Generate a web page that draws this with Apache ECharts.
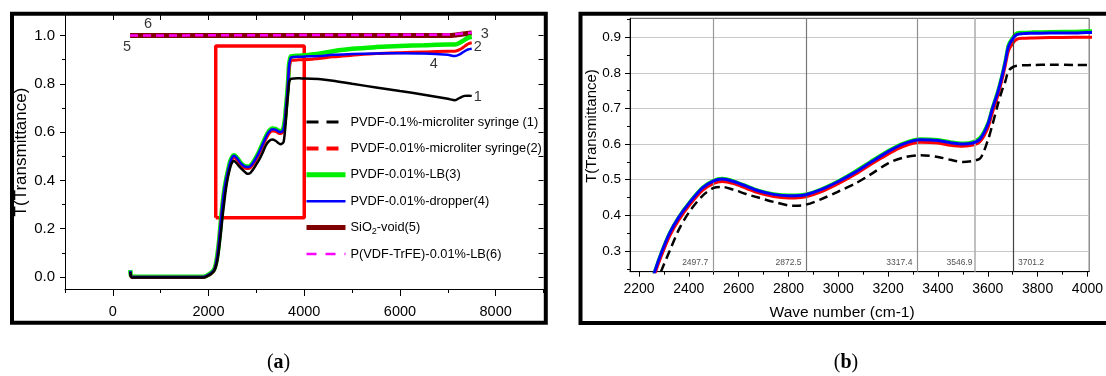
<!DOCTYPE html>
<html><head><meta charset="utf-8">
<script src="https://cdn.jsdelivr.net/npm/echarts@6/dist/echarts.min.js"></script>
<style>
html,body{margin:0;padding:0;background:#fff;}
#a{position:absolute;left:0;top:0;width:560px;height:376px;}
#b{position:absolute;left:560px;top:0;width:546px;height:376px;}
</style></head><body>
<div id="a"></div><div id="b"></div>
<script>
// ---------- DATA ----------
const NAMES = ['PVDF-0.1%-microliter syringe (1)', 'PVDF-0.01%-microliter syringe(2)', 'PVDF-0.01%-LB(3)', 'PVDF-0.01%-dropper(4)', 'SiO2-void(5)', 'P(VDF-TrFE)-0.01%-LB(6)'];
const CURVE_NUMBERS = ['1', '2', '3', '4', '5', '6'];

const WN = [365, 378, 400, 500, 1000, 1500, 1900, 1960, 2050, 2120, 2170, 2210, 2240, 2263, 2290, 2323, 2360, 2402, 2455, 2500, 2534, 2580, 2630, 2679, 2740, 2800, 2826, 2870, 2930, 3000, 3070, 3130, 3200, 3260, 3330, 3400, 3450, 3500, 3540, 3570, 3600, 3617, 3640, 3657, 3670, 3683, 3700, 3716, 3740, 3780, 3850, 3950, 4000, 4300, 4600, 5000, 5500, 6000, 6500, 7000, 7150, 7250, 7350, 7420, 7500];
const T1 = [0.02, 0.002, -0.002, -0.002, -0.002, -0.002, -0.002, 0.002, 0.012, 0.026, 0.055, 0.10, 0.15, 0.19, 0.245, 0.30, 0.36, 0.41, 0.455, 0.477, 0.48, 0.472, 0.46, 0.45, 0.438, 0.428, 0.427, 0.43, 0.445, 0.467, 0.49, 0.515, 0.546, 0.562, 0.569, 0.564, 0.556, 0.55, 0.553, 0.56, 0.61, 0.65, 0.71, 0.75, 0.775, 0.805, 0.816, 0.82, 0.821, 0.822, 0.823, 0.822, 0.822, 0.82, 0.813, 0.80, 0.785, 0.77, 0.755, 0.738, 0.732, 0.742, 0.75, 0.751, 0.75];
const T2 = [0.022, 0.003, -0.001, -0.001, -0.001, -0.001, -0.001, 0.003, 0.013, 0.028, 0.066, 0.125, 0.183, 0.235, 0.287, 0.342, 0.387, 0.428, 0.47, 0.49, 0.495, 0.489, 0.476, 0.463, 0.453, 0.449, 0.449, 0.452, 0.466, 0.489, 0.516, 0.543, 0.572, 0.593, 0.605, 0.603, 0.597, 0.594, 0.597, 0.608, 0.645, 0.685, 0.735, 0.78, 0.82, 0.862, 0.883, 0.894, 0.897, 0.898, 0.899, 0.90, 0.90, 0.905, 0.912, 0.918, 0.925, 0.929, 0.932, 0.935, 0.935, 0.942, 0.955, 0.965, 0.97];
const T3 = [0.028, 0.006, 0.002, 0.001, 0.001, 0.001, 0.001, 0.005, 0.016, 0.032, 0.072, 0.132, 0.192, 0.244, 0.297, 0.352, 0.397, 0.437, 0.479, 0.499, 0.504, 0.497, 0.484, 0.471, 0.461, 0.457, 0.457, 0.46, 0.474, 0.497, 0.525, 0.552, 0.582, 0.603, 0.615, 0.613, 0.607, 0.603, 0.607, 0.62, 0.66, 0.70, 0.75, 0.795, 0.836, 0.88, 0.90, 0.912, 0.914, 0.915, 0.916, 0.917, 0.918, 0.925, 0.935, 0.945, 0.952, 0.957, 0.96, 0.963, 0.963, 0.97, 0.982, 0.99, 0.995];
const T4 = [0.025, 0.004, 0.0, 0.0, 0.0, 0.0, 0.0, 0.004, 0.015, 0.03, 0.07, 0.13, 0.19, 0.242, 0.295, 0.35, 0.395, 0.435, 0.477, 0.497, 0.502, 0.495, 0.482, 0.469, 0.459, 0.455, 0.455, 0.458, 0.472, 0.495, 0.522, 0.549, 0.579, 0.600, 0.612, 0.610, 0.604, 0.600, 0.603, 0.615, 0.655, 0.696, 0.745, 0.79, 0.83, 0.874, 0.895, 0.907, 0.910, 0.911, 0.912, 0.912, 0.913, 0.915, 0.92, 0.923, 0.926, 0.927, 0.926, 0.92, 0.915, 0.922, 0.935, 0.942, 0.945];
const WN56 = [360, 1000, 2000, 3000, 4000, 5000, 6000, 7000, 7200, 7400, 7500];
const T5 = [1.0, 1.0, 1.0, 1.0, 1.0, 1.0, 1.0, 1.0, 1.003, 1.008, 1.01];
const T6 = [1.0, 1.0, 1.001, 1.001, 1.002, 1.002, 1.003, 1.004, 1.006, 1.01, 1.011];

const RECT_X = [2150, 4000];
const RECT_Y = [0.245, 0.957];
const PEAKS = [2497.7, 2872.5, 3317.4, 3546.9, 3701.2];

const LEFT_X_TICKS = [0, 2000, 4000, 6000, 8000];
const LEFT_Y_TICKS = [0, 0.2, 0.4, 0.6, 0.8, 1.0];
const RIGHT_X_TICKS = [2200, 2400, 2600, 2800, 3000, 3200, 3400, 3600, 3800, 4000];
const RIGHT_Y_TICKS = [0.3, 0.4, 0.5, 0.6, 0.7, 0.8, 0.9];

// ---------- STYLE ----------
const SANS = "'Liberation Sans',Arial,sans-serif";
const SERIF = "'Liberation Serif','DejaVu Serif',serif";
const STY = [
  {color:'#000000', width:2.5, type:'solid', lType:[12,8], lWidth:3},
  {color:'#ff0000', width:3, type:'solid', lType:[12,8], lWidth:4},
  {color:'#00ee00', width:4.5, type:'solid', lType:'solid', lWidth:5},
  {color:'#0000ff', width:2.5, type:'solid', lType:'solid', lWidth:2.5},
  {color:'#800000', width:5, type:'solid', lType:'solid', lWidth:5},
  {color:'#ff00ff', width:2.5, type:[8,5], lType:[10,9], lWidth:2.5}
];
const PEAK_COLORS = ['#999999', '#777777', '#909090', '#b0b0b0', '#444444'];

const pairs = (xs, ys) => xs.map((x, i) => [x, ys[i]]);
const CURVES = [pairs(WN, T1), pairs(WN, T2), pairs(WN, T3), pairs(WN, T4), pairs(WN56, T5), pairs(WN56, T6)];
const mids = (arr) => arr.slice(0, -1).map((v, i) => +((v + arr[i + 1]) / 2).toFixed(4));
const range = (a, b, s) => { const r = []; for (let v = a; v <= b + 1e-9; v += s) r.push(+v.toFixed(4)); return r; };
const plain = (v) => String(v);

// ---------- LEFT CHART ----------
const xMinA = -1000, xMaxA = 9000, yMinA = -0.05, yMaxA = 1.085;
const baseX = (extra) => Object.assign({type:'value', min:xMinA, max:xMaxA, splitLine:{show:false},
  axisLine:{show:false, onZero:false}, axisLabel:{show:false}}, extra);
const baseY = (extra) => Object.assign({type:'value', min:yMinA, max:yMaxA, splitLine:{show:false},
  axisLine:{show:false, onZero:false}, axisLabel:{show:false}}, extra);

const seriesA = [];
const drawOrder = [4, 5, 2, 1, 3, 0];
seriesA.push({type:'line', name:'zoom-box', silent:true, symbol:'none', z:1,
  data:[[RECT_X[0], RECT_Y[0]], [RECT_X[0], RECT_Y[1]], [RECT_X[1], RECT_Y[1]], [RECT_X[1], RECT_Y[0]], [RECT_X[0], RECT_Y[0]]],
  lineStyle:{color:'#ff0000', width:3.5}, itemStyle:{color:'#ff0000'}});
drawOrder.forEach((i, k) => {
  seriesA.push({type:'line', name:NAMES[i], data:CURVES[i], symbol:'none', showSymbol:false, smooth:0.3, z:2 + k,
    lineStyle:{color:STY[i].color, width:STY[i].width, type:STY[i].type}, itemStyle:{color:STY[i].color}});
});
const lastOf = (c) => c[c.length - 1];
const idx6500 = WN.indexOf(6500);
const annot = [
  {value:lastOf(CURVES[0]), label:{position:'right', distance:2, offset:[0, 1]}},
  {value:lastOf(CURVES[1]), label:{position:'right', distance:2, offset:[0, 4]}},
  {value:lastOf(CURVES[2]), label:{position:'right', distance:2, offset:[7, -3]}},
  {value:CURVES[3][idx6500], label:{position:'bottom', distance:3, offset:[10, 0]}},
  {value:CURVES[4][0], label:{position:'bottom', distance:4, offset:[-3, 0]}},
  {value:CURVES[5][0], label:{position:'top', distance:4, offset:[18, 0]}}
].map((d, i) => ({value:d.value, label:Object.assign({show:true, formatter:CURVE_NUMBERS[i]}, d.label)}));
seriesA.push({type:'scatter', name:'numbers', symbolSize:0, silent:true, z:20, data:annot,
  label:{show:true, fontFamily:SANS, fontSize:14.5, color:'#000'}});

const optA = {
  animation:false,
  backgroundColor:'#fff',
  grid:{left:65, right:16.5, top:15, bottom:87},
  xAxis:[
    baseX({position:'bottom', axisLine:{show:true, onZero:false, lineStyle:{color:'#000', width:1}},
      axisTick:{show:true, customValues:LEFT_X_TICKS, length:7, lineStyle:{color:'#000'}},
      axisLabel:{show:true, customValues:LEFT_X_TICKS, formatter:plain, fontFamily:SANS, fontSize:14.5, color:'#000', margin:15}}),
    baseX({position:'bottom', axisTick:{show:true, customValues:[xMinA].concat(mids(LEFT_X_TICKS)).concat([xMaxA]), length:4, lineStyle:{color:'#000'}}}),
    baseX({position:'top', axisTick:{show:true, inside:true, customValues:range(0, 8000, 1000), length:5, lineStyle:{color:'#000'}}})
  ],
  yAxis:[
    baseY({position:'left', axisLine:{show:true, onZero:false, lineStyle:{color:'#000', width:1}},
      axisTick:{show:true, customValues:LEFT_Y_TICKS, length:5, lineStyle:{color:'#000'}},
      axisLabel:{show:true, customValues:LEFT_Y_TICKS, formatter:(v) => v.toFixed(1), fontFamily:SANS, fontSize:15, color:'#000', margin:10},
      name:'T(Transmittance)', nameLocation:'middle', nameGap:35, nameMoveOverlap:false,
      nameTextStyle:{fontFamily:SANS, fontSize:17, color:'#000'}}),
    baseY({position:'left', axisTick:{show:true, customValues:mids(LEFT_Y_TICKS), length:3, lineStyle:{color:'#000'}}}),
    baseY({position:'right', axisTick:{show:true, inside:true, customValues:range(0, 1.0, 0.1), length:5, lineStyle:{color:'#000'}}})
  ],
  legend:{
    orient:'vertical', left:304, top:114, padding:0, itemWidth:39, itemHeight:16, itemGap:10.4, selectedMode:false,
    itemStyle:{opacity:0},
    data:NAMES.map((n, i) => ({name:n, itemStyle:{opacity:0}, lineStyle:{type:STY[i].lType, width:STY[i].lWidth, color:STY[i].color}})),
    formatter:(name) => name === NAMES[4] ? '{n|SiO}{s|2}{n|-void(5)}' : '{n|' + name + '}',
    textStyle:{fontFamily:SANS, fontSize:12.8, color:'#000', lineHeight:16,
      rich:{n:{fontFamily:SANS, fontSize:12.8, color:'#000', lineHeight:16},
            s:{fontFamily:SANS, fontSize:9, color:'#000', lineHeight:16, verticalAlign:'bottom'}}}
  },
  graphic:[
    {type:'rect', z:100, silent:true, shape:{x:12, y:13.7, width:533.8, height:309}, style:{fill:'none', stroke:'#000', lineWidth:4}},
    {type:'text', z:100, x:278.6, y:363, style:{text:'{p|(}{b|a}{p|)}', align:'center', verticalAlign:'middle',
      rich:{p:{fontFamily:SERIF, fontSize:20, fill:'#000'}, b:{fontFamily:SERIF, fontSize:20, fontWeight:'bold', fill:'#000'}}}}
  ],
  series:seriesA
};

// ---------- RIGHT CHART ----------
const xMinB = 2164, xMaxB = 4007, yMinB = 0.242, yMaxB = 0.953;
const LABEL_Y = yMinB + 0.026;
const seriesB = [];
[2, 1, 3, 0].forEach((i, k) => {
  seriesB.push({type:'line', name:NAMES[i], data:CURVES[i], symbol:'none', smooth:0.3, z:3 + k,
    lineStyle:{color:STY[i].color, width:i === 0 ? 2.5 : 3, type:i === 0 ? [9, 5] : 'solid'}, itemStyle:{color:STY[i].color}});
});
seriesB.push({type:'line', name:'peaks', data:[], symbol:'none', z:2, silent:true,
  markLine:{silent:true, symbol:'none', animation:false, label:{show:false},
    data:PEAKS.map((p, i) => ({xAxis:p, lineStyle:{color:PEAK_COLORS[i], width:i === 3 ? 1.6 : 1.2, type:'solid'}}))}});
seriesB.push({type:'scatter', name:'peak-labels', symbolSize:0, silent:true, z:10,
  data:PEAKS.map((p, i) => ({value:[p, LABEL_Y], label:{show:true, formatter:String(p), position:i < 4 ? 'left' : 'right', distance:i === 3 ? 2 : 5}})),
  label:{show:true, fontFamily:SANS, fontSize:8.5, color:'#222'}});

const optB = {
  animation:false,
  backgroundColor:'#fff',
  grid:{left:70, right:11, top:18.3, bottom:104.3, show:true, borderColor:'#555', borderWidth:1},
  xAxis:[
    {type:'value', min:xMinB, max:xMaxB, position:'bottom', splitLine:{show:false},
      axisLine:{show:true, onZero:false, lineStyle:{color:'#000', width:1}},
      axisTick:{show:true, customValues:RIGHT_X_TICKS, length:5, lineStyle:{color:'#000'}},
      axisLabel:{show:true, customValues:RIGHT_X_TICKS, formatter:plain, fontFamily:SANS, fontSize:14, color:'#000', margin:10},
      name:'Wave number (cm-1)', nameLocation:'middle', nameGap:33, nameMoveOverlap:false,
      nameTextStyle:{fontFamily:SANS, fontSize:15.5, color:'#000', padding:[0, 35, 0, 0]}},
    {type:'value', min:xMinB, max:xMaxB, position:'bottom', splitLine:{show:false}, axisLine:{show:false, onZero:false},
      axisLabel:{show:false}, axisTick:{show:true, customValues:mids(RIGHT_X_TICKS), length:3, lineStyle:{color:'#000'}}}
  ],
  yAxis:[
    {type:'value', min:yMinB, max:yMaxB, position:'left',
      splitLine:{show:true, lineStyle:{color:'#c8c8c8', width:1}},
      axisLine:{show:true, onZero:false, lineStyle:{color:'#000', width:1}},
      axisTick:{show:true, customValues:RIGHT_Y_TICKS, length:5, lineStyle:{color:'#000'}},
      axisLabel:{show:true, customValues:RIGHT_Y_TICKS, formatter:(v) => v.toFixed(1), fontFamily:SANS, fontSize:13.5, color:'#000', margin:9},
      name:'T(Transmittance)', nameLocation:'middle', nameGap:31, nameMoveOverlap:false,
      nameTextStyle:{fontFamily:SANS, fontSize:15, color:'#000', padding:[0, 0, 0, 38]}},
    {type:'value', min:yMinB, max:yMaxB, position:'left', splitLine:{show:false}, axisLine:{show:false, onZero:false},
      axisLabel:{show:false}, axisTick:{show:true, customValues:[0.25].concat(mids(RIGHT_Y_TICKS)).concat([0.95]), length:3, lineStyle:{color:'#000'}}}
  ],
  graphic:[
    {type:'rect', z:100, silent:true, shape:{x:20.5, y:13.8, width:545, height:309.2}, style:{fill:'none', stroke:'#000', lineWidth:4}},
    {type:'text', z:100, x:286, y:363, style:{text:'{p|(}{b|b}{p|)}', align:'center', verticalAlign:'middle',
      rich:{p:{fontFamily:SERIF, fontSize:20, fill:'#000'}, b:{fontFamily:SERIF, fontSize:20, fontWeight:'bold', fill:'#000'}}}}
  ],
  series:seriesB
};

echarts.init(document.getElementById('a'), null, {renderer:'canvas'}).setOption(optA);
echarts.init(document.getElementById('b'), null, {renderer:'canvas'}).setOption(optB);
</script>
</body></html>
